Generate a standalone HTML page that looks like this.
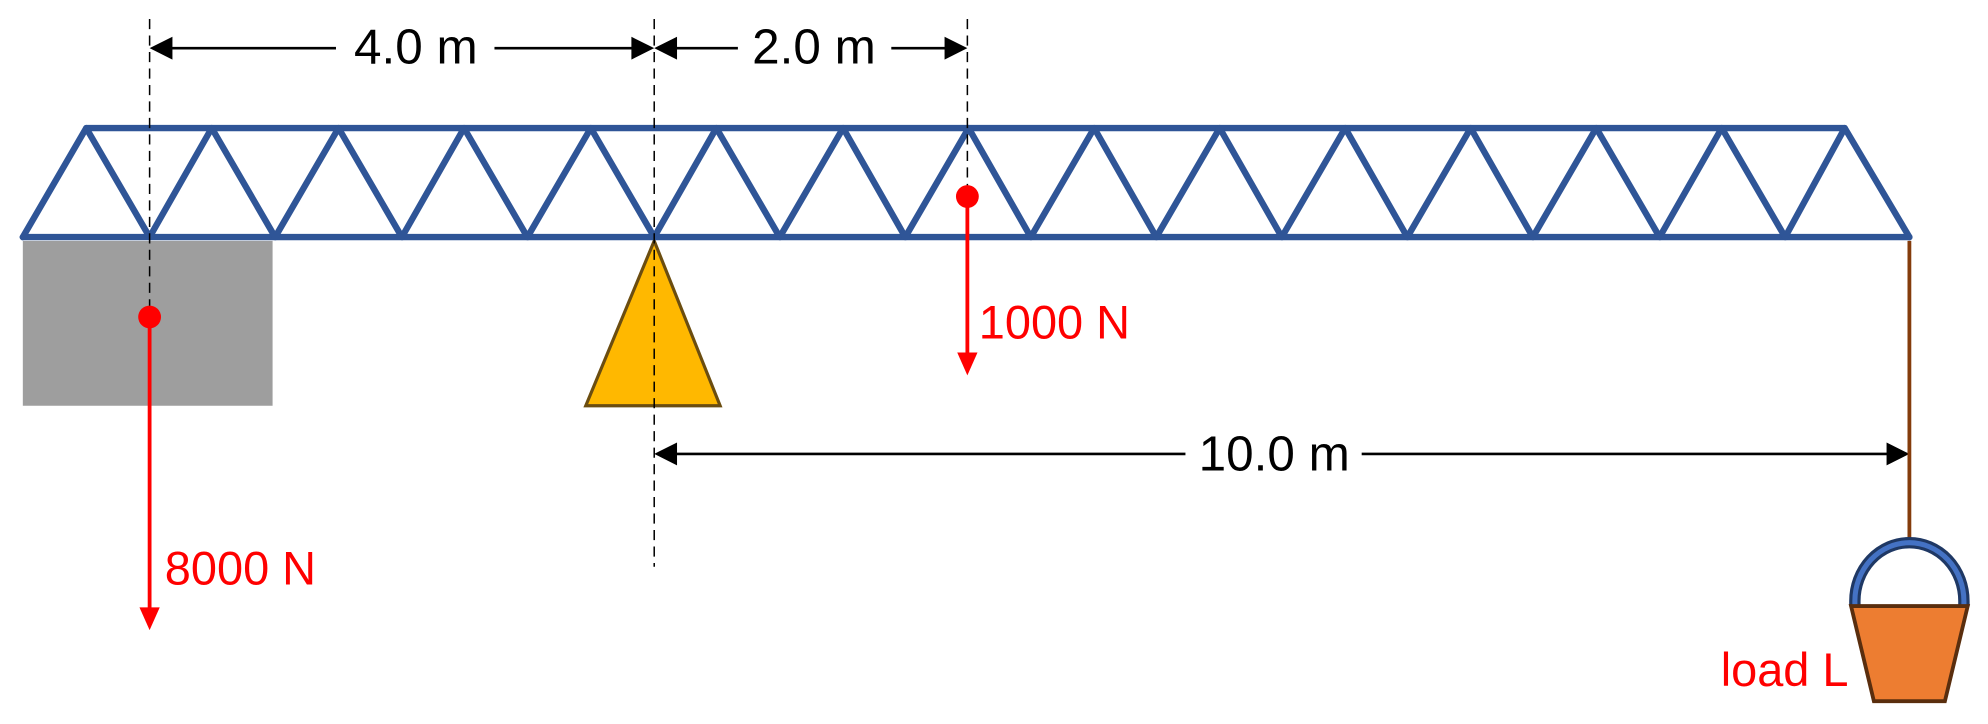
<!DOCTYPE html>
<html><head><meta charset="utf-8"><style>
html,body{margin:0;padding:0;background:#fff;}
svg{display:block;}
text{font-family:"Liberation Sans",sans-serif;}
</style></head><body>
<svg width="1988" height="724" viewBox="0 0 1568 571" preserveAspectRatio="none" xmlns="http://www.w3.org/2000/svg">
<rect x="18" y="190" width="197" height="130" fill="#9e9e9e"/>
<polygon points="516,190 462,320 568,320" fill="#ffb800" stroke="#6b4d10" stroke-width="2.5"/>
<g stroke="#2f5597" stroke-width="5" fill="none" stroke-linejoin="round" stroke-linecap="round">
<line x1="68" y1="101" x2="1455" y2="101"/>
<line x1="18" y1="187" x2="1506" y2="187"/>
<polyline points="18,187 68,101 118,187 167,101 217,187 267,101 317,187 366,101 416,187 466,101 516,187 565,101 615,187 665,101 714,187 764,101 813,187 863,101 912,187 962,101 1011,187 1061,101 1110,187 1160,101 1209,187 1259,101 1309,187 1358,101 1408,187 1455,101 1506,187"/>
</g>
<g stroke="#000" stroke-width="1.2" stroke-dasharray="8,5">
<line x1="118" y1="15" x2="118" y2="250"/>
<line x1="516" y1="15" x2="516" y2="447"/>
<line x1="763" y1="15" x2="763" y2="150"/>
</g>
<g stroke="#000" stroke-width="2">
<line x1="125" y1="38" x2="265" y2="38"/>
<line x1="390" y1="38" x2="508" y2="38"/>
<line x1="524" y1="38" x2="582" y2="38"/>
<line x1="703" y1="38" x2="755" y2="38"/>
<line x1="524" y1="358" x2="935" y2="358"/>
<line x1="1074" y1="358" x2="1498" y2="358"/>
</g>
<g fill="#000">
<polygon points="118,38 136,29 136,47"/>
<polygon points="516,38 498,29 498,47"/>
<polygon points="516,38 534,29 534,47"/>
<polygon points="763,38 745,29 745,47"/>
<polygon points="516,358 534,349 534,367"/>
<polygon points="1506,358 1488,349 1488,367"/>
</g>
<text x="328" y="50" font-size="39" text-anchor="middle">4.0 m</text>
<text x="642" y="50" font-size="39" text-anchor="middle">2.0 m</text>
<text x="1005" y="371" font-size="39" text-anchor="middle">10.0 m</text>
<circle cx="118" cy="250" r="9" fill="#f00"/>
<line x1="118" y1="250" x2="118" y2="482" stroke="#f00" stroke-width="3"/>
<polygon points="118,497 110,479 126,479" fill="#f00"/>
<text x="130" y="461" font-size="37" fill="#f00">8000 N</text>
<circle cx="763" cy="155" r="9" fill="#f00"/>
<line x1="763" y1="155" x2="763" y2="280" stroke="#f00" stroke-width="3"/>
<polygon points="763,296 755,278 771,278" fill="#f00"/>
<text x="772" y="267" font-size="37" fill="#f00">1000 N</text>
<line x1="1506" y1="190" x2="1506" y2="430" stroke="#843c0c" stroke-width="3"/>
<path d="M1463,478 L1463,474 A43,46 0 0 1 1549,474 L1549,478" fill="none" stroke="#1f3864" stroke-width="9"/>
<path d="M1463,478 L1463,474 A43,46 0 0 1 1549,474 L1549,478" fill="none" stroke="#4472c4" stroke-width="4"/>
<polygon points="1460,478 1552,478 1534,553 1478,553" fill="#ed7d31" stroke="#5a2e0e" stroke-width="3"/>
<text x="1458" y="541" font-size="37" fill="#f00" text-anchor="end">load L</text>
</svg>
</body></html>
